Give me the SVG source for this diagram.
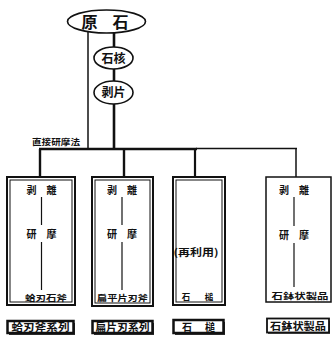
<svg xmlns="http://www.w3.org/2000/svg" width="332" height="341" viewBox="0 0 332 341">
<style>
text{font-family:"Noto Sans CJK JP","Noto Sans CJK SC",sans-serif;font-weight:bold;fill:#111;text-anchor:middle}
.ell{fill:#fff;stroke:#111;stroke-width:1.6}
.ln{stroke:#111;fill:none}
.outer{fill:#fff;stroke:#111;stroke-width:2}
.inner{fill:none;stroke:#111;stroke-width:1}
.lab{fill:#fff;stroke:#111;stroke-width:2.5}
.t10{font-size:10px}
.t9{font-size:8.5px}
</style>
<rect width="332" height="341" fill="#fff"/>
<g id="connectors">
<line class="ln" x1="88" y1="32" x2="88" y2="149" stroke-width="1.5"/>
<line class="ln" x1="114" y1="33" x2="114" y2="149" stroke-width="2.6"/>
<line class="ln" x1="39" y1="149" x2="197" y2="149" stroke-width="2.6"/>
<line class="ln" x1="196" y1="148.5" x2="297" y2="148.5" stroke-width="1.5"/>
<line class="ln" x1="40" y1="149" x2="40" y2="177" stroke-width="2.4"/>
<line class="ln" x1="124" y1="149" x2="124" y2="177" stroke-width="2.4"/>
<line class="ln" x1="195" y1="149" x2="195" y2="177" stroke-width="2.2"/>
<line class="ln" x1="296" y1="148" x2="296" y2="177" stroke-width="1.5"/>
<text x="56" y="145" style="font-size:8.5px" textLength="48" lengthAdjust="spacingAndGlyphs">直接研摩法</text>
</g>
<g id="genseki">
<ellipse class="ell" cx="106.5" cy="21.5" rx="39" ry="11.5"/>
<text x="89.5" y="27.5" style="font-size:16px">原</text>
<text x="120.5" y="27.5" style="font-size:16px">石</text>
</g>
<g id="sekikaku">
<ellipse class="ell" cx="113.5" cy="58" rx="19.5" ry="11"/>
<text x="113.5" y="62.5" style="font-size:12px">石核</text>
</g>
<g id="hakuhen">
<ellipse class="ell" cx="113.5" cy="92.5" rx="19.5" ry="11.5"/>
<text x="113.5" y="97" style="font-size:12px">剥片</text>
</g>
<g id="box1">
<rect class="outer" x="7" y="177" width="68" height="128"/>
<rect class="inner" x="10" y="180" width="62" height="122"/>
<line class="ln" x1="41.5" y1="197" x2="41.5" y2="225" stroke-width="1.2"/>
<line class="ln" x1="41.5" y1="242" x2="41.5" y2="290" stroke-width="1.2"/>
<text class="t10" x="41.5" y="194">剥　離</text>
<text class="t10" x="41.5" y="238">研　摩</text>
<text class="t9" x="46" y="301" textLength="42" lengthAdjust="spacingAndGlyphs">蛤刃石斧</text>
</g>
<g id="box2">
<rect class="outer" x="92" y="177" width="61" height="129"/>
<rect class="inner" x="95" y="180" width="55" height="123"/>
<line class="ln" x1="122" y1="197" x2="122" y2="225" stroke-width="1.2"/>
<line class="ln" x1="122" y1="242" x2="122" y2="290" stroke-width="1.2"/>
<text class="t10" x="122" y="194">剥　離</text>
<text class="t10" x="122" y="238">研　摩</text>
<text class="t9" x="122.5" y="301" textLength="51" lengthAdjust="spacingAndGlyphs">扁平片刃斧</text>
</g>
<g id="box3">
<rect class="outer" x="173" y="177" width="52" height="128"/>
<rect class="inner" x="176" y="180" width="46" height="122"/>
<text class="t10" x="196" y="256" textLength="45" lengthAdjust="spacingAndGlyphs">(再利用)</text>
<text class="t9" x="186" y="300">石</text>
<text class="t9" x="209" y="300">槌</text>
</g>
<g id="box4">
<rect x="266" y="177" width="65" height="125" fill="#fff" stroke="#111" stroke-width="1.5"/>
<line class="ln" x1="294" y1="197" x2="294" y2="226" stroke-width="1.2"/>
<line class="ln" x1="294" y1="243" x2="294" y2="287" stroke-width="1.2"/>
<text class="t10" x="294" y="194">剥　離</text>
<text class="t10" x="294" y="239">研　摩</text>
<text class="t9" x="300" y="299" textLength="57" lengthAdjust="spacingAndGlyphs">石鉢状製品</text>
</g>
<g id="label1">
<rect x="9" y="323" width="66" height="12" fill="#333"/>
<rect class="lab" x="7.5" y="321" width="66" height="12"/>
<text class="t10" x="40.5" y="331" textLength="58" lengthAdjust="spacingAndGlyphs">蛤刃斧系列</text>
</g>
<g id="label2">
<rect x="94" y="323" width="60" height="12" fill="#333"/>
<rect class="lab" x="92.5" y="321" width="60" height="12"/>
<text class="t10" x="122.5" y="331" textLength="54" lengthAdjust="spacingAndGlyphs">扁片刃系列</text>
</g>
<g id="label3">
<rect x="175" y="322" width="50" height="13" fill="#333"/>
<rect class="lab" x="173.5" y="320" width="50" height="13"/>
<text class="t10" x="187" y="331">石</text>
<text class="t10" x="210" y="331">槌</text>
</g>
<g id="label4">
<rect x="268" y="321" width="62" height="13" fill="#555"/>
<rect x="267" y="318.5" width="62" height="14" fill="#fff" stroke="#111" stroke-width="1.8"/>
<text class="t10" x="298" y="329.5" textLength="56" lengthAdjust="spacingAndGlyphs">石鉢状製品</text>
</g>
</svg>
